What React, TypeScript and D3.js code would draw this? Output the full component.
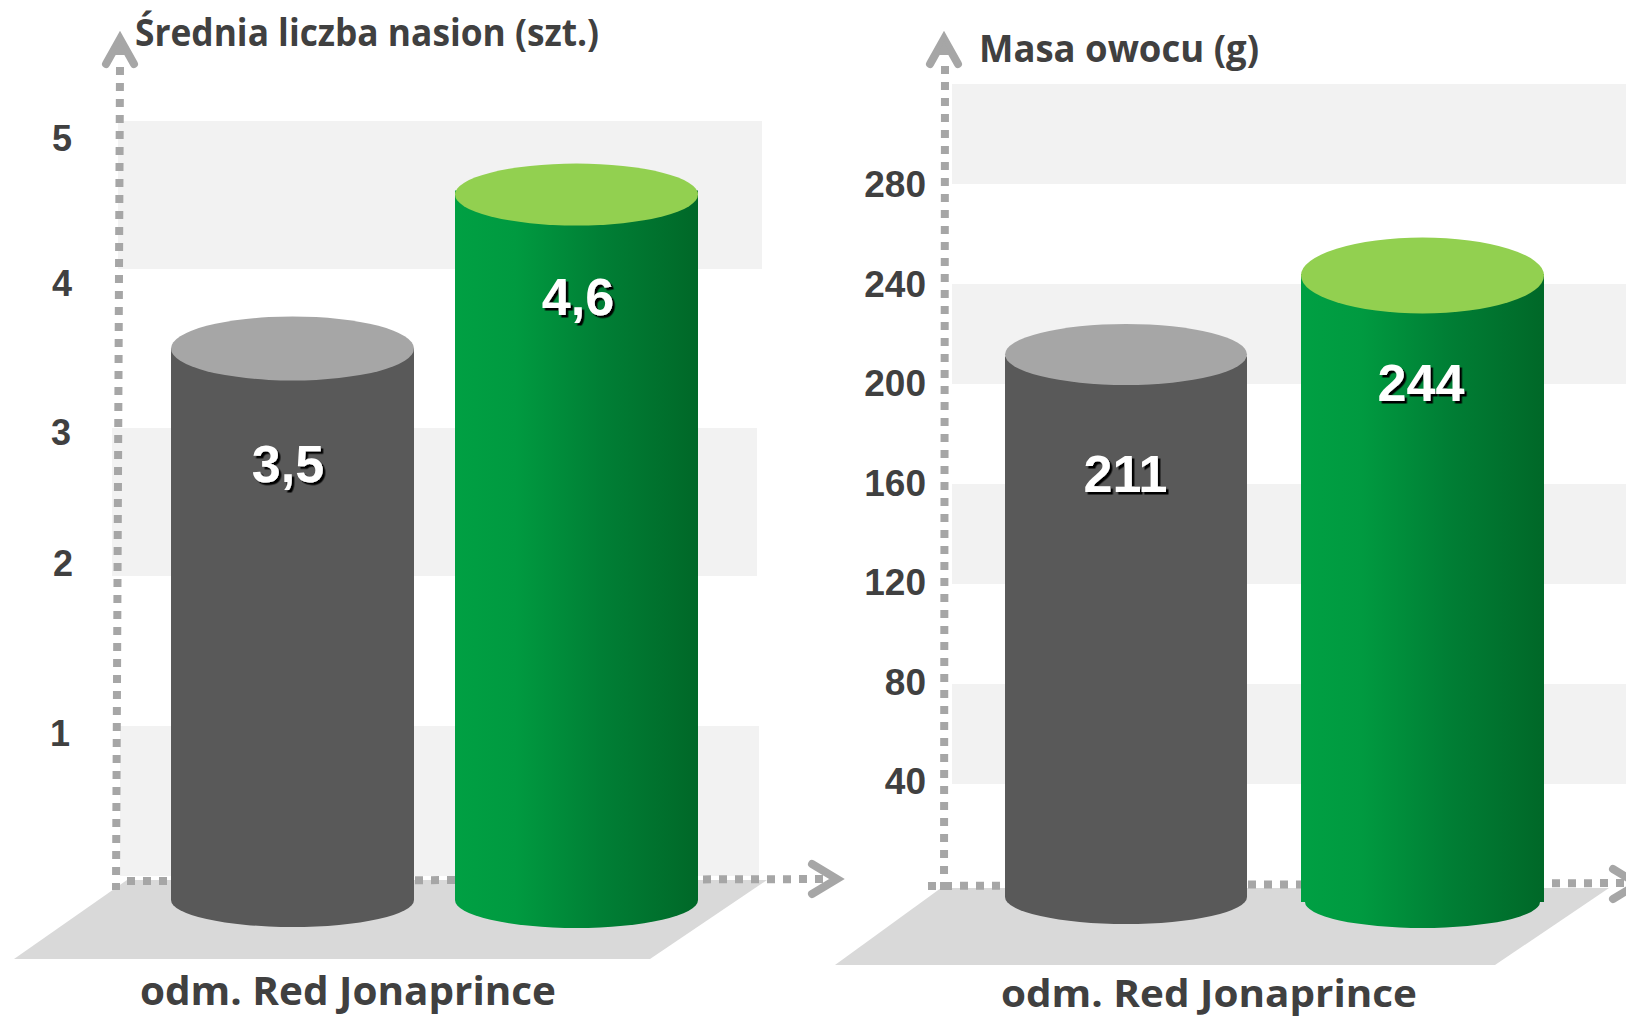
import React from "react";
import * as d3 from "d3";

const seedTicks = ["1", "2", "3", "4", "5"];
const seedTickValues = [1, 2, 3, 4, 5];
const seedBandEdges = [0, 1, 2, 3, 4, 5];
const seedBarValues = [3.5, 4.53];
const seedBarLabels = ["3,5", "4,6"];
const massTickValues = [40, 80, 120, 160, 200, 240, 280];
const massBandEdges = [40, 80, 120, 160, 200, 240, 280, 320];
const massBarValues = [211, 244];
const massBarLabels = ["211", "244"];
const seedTitle = "Średnia liczba nasion (szt.)";
const massTitle = "Masa owocu (g)";
const category = "odm. Red Jonaprince";

const INK = "#404040";
const AXIS = "#a6a6a6";
const BAND = "#f2f2f2";
const FLOOR = "#d9d9d9";
const TITLE_FONT = "'Open Sans', 'Noto Sans', sans-serif";
const NUM_FONT = "'Liberation Sans', Arial, sans-serif";

const seedY = d3.scaleLinear().domain(seedBandEdges).range([876, 726, 576, 428, 269, 121]);
const massY = d3.scaleLinear().domain([0, 320]).range([884, 84]);
const massLabelY = d3.scaleLinear().domain([40, 280]).range([794, 197]);

function Cylinder({ id, x0, x1, top, capDy, ry, bodyBottom, bottom, inset, green, label, labelX, labelY }: any) {
  const rx = (x1 - x0) / 2;
  const cx = (x0 + x1) / 2;
  const bry = bottom - bodyBottom;
  const d = `M${x0},${top} L${x0},${bodyBottom} L${x0 + inset},${bodyBottom} A${rx - inset},${bry} 0 0 0 ${x1 - inset},${bodyBottom} L${x1},${bodyBottom} L${x1},${top} Z`;
  return (
    <g>
      {green && (
        <linearGradient id={id} gradientUnits="userSpaceOnUse" x1={x0} x2={x1} y1={0} y2={0}>
          <stop offset="0" stopColor="#00a043" />
          <stop offset="0.25" stopColor="#009a40" />
          <stop offset="0.6" stopColor="#007f35" />
          <stop offset="1" stopColor="#006828" />
        </linearGradient>
      )}
      <path d={d} fill={green ? `url(#${id})` : "#595959"} />
      <ellipse cx={cx} cy={top + capDy} rx={rx} ry={ry} fill={green ? "#92d050" : "#a6a6a6"} />
      <text x={labelX} y={labelY} textAnchor="middle" fontFamily={NUM_FONT} fontWeight={700} fontSize={52} fill="#fff" filter="url(#hardShadow)">
        {label}
      </text>
    </g>
  );
}

function Dotted({ x1, y1, x2, y2 }: any) {
  return <line x1={x1} y1={y1} x2={x2} y2={y2} stroke={AXIS} strokeWidth={8} strokeDasharray="8 8" />;
}

function UpArrow({ x, tip }: any) {
  const path = d3.line()([[x - 14, tip + 31], [x, tip + 6], [x + 14, tip + 31]]) as string;
  return (
    <g>
      <path d={path} fill="none" stroke={AXIS} strokeWidth={8} strokeLinecap="round" strokeLinejoin="miter" />
      <path d={d3.line()([[x - 6, tip + 22], [x, tip + 8], [x + 6, tip + 22]]) as string} fill={AXIS} />
    </g>
  );
}

function RightArrow({ x, y }: any) {
  const path = d3.line()([[x - 29, y - 15], [x - 4, y], [x - 29, y + 15]]) as string;
  return <path d={path} fill="none" stroke={AXIS} strokeWidth={8} strokeLinecap="round" strokeLinejoin="miter" />;
}

const seedLabelNudgeY = [7, -13, 4, 14, 17];
const seedLabelX = [60, 63, 61, 62, 62];
const seedBandX = [[120, 759], [112, 757], [118, 762]];

export default function App() {
  const seedBands = [0, 2, 4];
  const massBands = [0, 2, 4, 6];
  return (
    <svg width={1626} height={1018} viewBox="0 0 1626 1018" style={{ position: "absolute", left: 0, top: 0, background: "#fff" }}>
      <defs>
        <filter id="hardShadow" x="-20%" y="-20%" width="140%" height="140%">
          <feDropShadow dx={2.5} dy={2.5} stdDeviation={0.3} floodColor="#000" floodOpacity={1} />
        </filter>
      </defs>

      {/* left chart */}
      {seedBands.map((i, k) => (
        <rect key={i} x={seedBandX[k][0]} width={seedBandX[k][1] - seedBandX[k][0]}
          y={seedY(seedBandEdges[i + 1])} height={seedY(seedBandEdges[i]) - seedY(seedBandEdges[i + 1])} fill={BAND} />
      ))}
      <polygon points="14,959 650,959 767,880 127,880" fill={FLOOR} />
      <Dotted x1={120} y1={67} x2={116} y2={890} />
      <Dotted x1={127} y1={881} x2={836} y2={879} />
      <UpArrow x={120} tip={33} />
      <RightArrow x={841} y={879} />
      {seedTickValues.map((v, i) => (
        <text key={v} x={seedLabelX[i]} y={seedY(v) + seedLabelNudgeY[i] + 13} textAnchor="middle" fontFamily={NUM_FONT} fontWeight={700} fontSize={36} fill={INK}>
          {seedTicks[i]}
        </text>
      ))}
      <text x={135} y={46} fontFamily={TITLE_FONT} fontWeight={700} fontSize={37} fill={INK} textLength={464} lengthAdjust="spacingAndGlyphs">{seedTitle}</text>
      <Cylinder id="g1" x0={171} x1={414} top={seedY(seedBarValues[0])} capDy={0} ry={32} bodyBottom={900} bottom={927} inset={0} green={false}
        label={seedBarLabels[0]} labelX={288} labelY={482} />
      <Cylinder id="g2" x0={455} x1={698} top={seedY(seedBarValues[1])} capDy={4} ry={31} bodyBottom={900} bottom={928} inset={0} green
        label={seedBarLabels[1]} labelX={578} labelY={315} />
      <text x={140} y={1005} fontFamily={TITLE_FONT} fontWeight={700} fontSize={39} fill={INK} textLength={416} lengthAdjust="spacingAndGlyphs">{category}</text>

      {/* right chart */}
      {massBands.map((i) => (
        <rect key={i} x={952} width={674} y={massY(massBandEdges[i + 1])} height={massY(massBandEdges[i]) - massY(massBandEdges[i + 1])} fill={BAND} />
      ))}
      <polygon points="835,965 1495,965 1609,888 941,888" fill={FLOOR} />
      <Dotted x1={945} y1={66} x2={944} y2={896} />
      <Dotted x1={928} y1={886} x2={1626} y2={883} />
      <UpArrow x={944} tip={33} />
      <RightArrow x={1642} y={884} />
      {massTickValues.map((v) => (
        <text key={v} x={926} y={massLabelY(v)} textAnchor="end" fontFamily={NUM_FONT} fontWeight={700} fontSize={37} fill={INK}>
          {v}
        </text>
      ))}
      <text x={979} y={62} fontFamily={TITLE_FONT} fontWeight={700} fontSize={37} fill={INK} textLength={280} lengthAdjust="spacingAndGlyphs">{massTitle}</text>
      <Cylinder id="g3" x0={1005} x1={1247} top={massY(massBarValues[0])} capDy={-2} ry={30.5} bodyBottom={897} bottom={924} inset={0} green={false}
        label={massBarLabels[0]} labelX={1125.5} labelY={492} />
      <Cylinder id="g4" x0={1301} x1={1544} top={massY(massBarValues[1])} capDy={1.5} ry={38} bodyBottom={902} bottom={928} inset={4} green
        label={massBarLabels[1]} labelX={1421} labelY={401} />
      <text x={1001} y={1007} fontFamily={TITLE_FONT} fontWeight={700} fontSize={37} fill={INK} textLength={416} lengthAdjust="spacingAndGlyphs">{category}</text>
    </svg>
  );
}
